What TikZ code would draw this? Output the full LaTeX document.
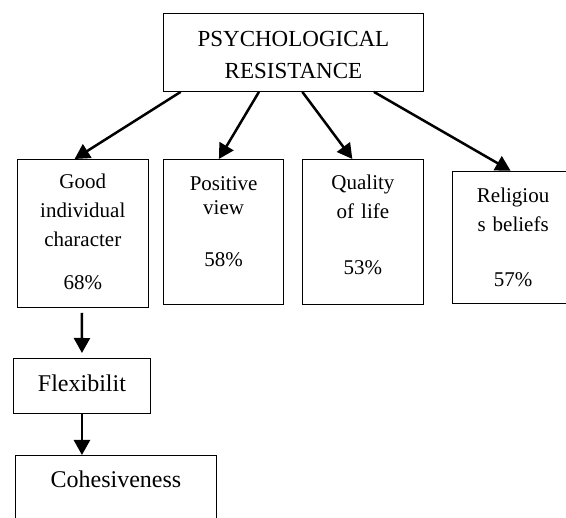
\documentclass[tikz,border=0pt]{standalone}
\usepackage{fontspec}
\setmainfont{Liberation Serif}
\usetikzlibrary{arrows.meta}

\tikzset{
  cell/.style={draw, line width=1.2pt, anchor=north west, align=center, inner sep=0pt},
  midfont/.style={font={\fontsize{21}{29}\selectfont}},
  arrow/.style={line width=2.5pt, -{Triangle[length=15pt,width=16pt]}}
}

\begin{document}
\begin{tikzpicture}[x=1pt,y=-1pt]
\useasboundingbox (0,0) rectangle (566,518);
\clip (0,0) rectangle (566,518);
\node (pr) [cell, text width=260.3pt, text height=32.7pt, text depth=44.7pt,
  font={\fontsize{23}{31.7}\selectfont}] at (162.7,13.3) {PSYCHOLOGICAL\\RESISTANCE};
\node (gic) [cell, midfont, text width=131pt, text height=29.3pt, text depth=118.4pt]
  at (16.7,159) {Good\\individual\\character\\[14pt]68\%};
\node (pv) [cell, midfont, text width=120pt, text height=31pt, text depth=114pt]
  at (163,159) {Positive\\[-5pt]view\\[23pt]58\%};
\node (ql) [cell, midfont, text width=121.3pt, text height=30.3pt, text depth=114.7pt]
  at (301.7,159) {Quality\\of life\\[26.7pt]53\%};
\node (rb) [cell, midfont, text width=121.6pt, text height=31pt, text depth=101.3pt]
  at (451.7,170.7) {Religiou\\s beliefs\\[26.7pt]57\%};
\node (flex) [cell, text width=137.3pt, text height=32.7pt, text depth=22pt,
  font={\fontsize{24}{29}\selectfont}] at (12.7,358) {Flexibilit};
\node (coh) [cell, text width=200.7pt, text height=32pt, text depth=60pt,
  font={\fontsize{24}{29}\selectfont}] at (15,455) {Cohesiveness};
\path[arrow]
([xshift=-112.8pt]pr.south) edge ([xshift=-8.2pt]gic.north)
([xshift=-34.5pt]pr.south) edge ([xshift=-4.7pt]pv.north)
([xshift=8.9pt]pr.south) edge ([xshift=-10.6pt]ql.north)
([xshift=80.5pt]pr.south) edge ([xshift=-2.5pt]rb.north)
([xshift=-0.8pt,yshift=-5pt]gic.south) edge ([yshift=5pt]flex.north)
(flex.south) edge (flex.south |- coh.north);
\end{tikzpicture}
\end{document}
